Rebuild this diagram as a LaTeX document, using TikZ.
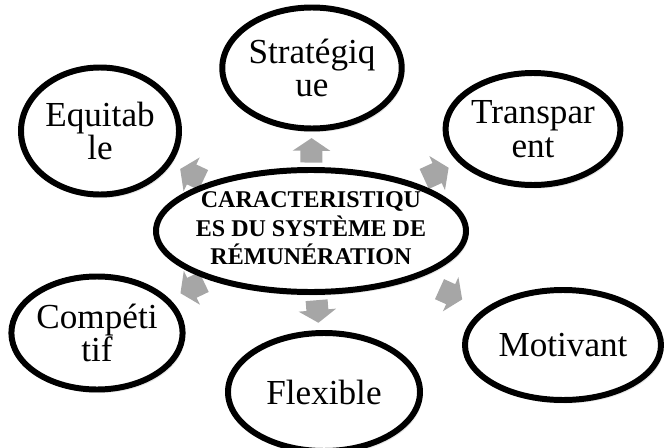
\documentclass[tikz,border=0pt]{standalone}
\usepackage{fontspec}
\setmainfont{Liberation Serif}
\usetikzlibrary{positioning,arrows.meta,shapes.geometric,calc,shadows,backgrounds}
\definecolor{arrowgrey}{HTML}{A6A6A6}

\begin{document}
\begin{tikzpicture}[x=0.03cm, y=-0.03cm,
    bubble/.style={ellipse, draw=black, line width=5.1pt, fill=white, inner sep=0pt, align=center,
        font=\fontsize{30}{28.5}\selectfont,
        drop shadow={shadow xshift=2pt, shadow yshift=-3pt, opacity=0.2}},
    garrow/.style={draw=arrowgrey, line width=0.66cm, -{Triangle[width=1.11cm, length=0.38cm]}}]
    \useasboundingbox (0,0) rectangle (664,448);

    % --- Central ellipse ---
    \node[bubble, minimum width=9.3cm, minimum height=3.66cm,
        font=\bfseries\fontsize{20.5}{22}\selectfont] (centre) at (311,231)
        {\makebox[0pt]{\begin{tabular}{@{}c@{}}CARACTERISTIQU\\ES DU SYSTÈME DE\\RÉMUNÉRATION\end{tabular}}};

    % --- Surrounding ellipses ---
    \node[bubble, minimum width=4.92cm, minimum height=3.63cm] (strat) at (312,68) {Stratégiq\\ue};
    \node[bubble, minimum width=4.74cm, minimum height=3.81cm] (equit) at (100,131) {Equitab\\le};
    \node[bubble, minimum width=5.19cm, minimum height=3.36cm] (transp) at (533,129) {Transpar\\ent};
    \node[bubble, minimum width=5.07cm, minimum height=3.39cm] (compet) at (97,333) {Compéti\\tif};
    \node[bubble, minimum width=5.76cm, minimum height=3.54cm] (flex) at (324,392) {Flexible};
    \node[bubble, minimum width=5.88cm, minimum height=3.3cm] (motiv) at (563,345) {Motivant};

    % Grey block arrows (behind the ellipses)
    \begin{scope}[on background layer]
        \draw[garrow] ($(centre)!0.42!(strat)$) -- ($(centre)!0.57!(strat)$);
        \draw[garrow] ($(centre)!0.51!(equit)$) -- ($(centre)!0.62!(equit)$);
        \draw[garrow] ($(centre)!0.51!(transp)$) -- ($(centre)!0.62!(transp)$);
        \draw[garrow] ($(centre)!0.50!(compet)$) -- ($(centre)!0.61!(compet)$);
        \draw[garrow] ($(centre)!0.43!(flex)$) -- ($(centre)!0.57!(flex)$);
        \draw[garrow] ($(centre)!0.51!(motiv)$) -- ($(centre)!0.60!(motiv)$);
    \end{scope}
\end{tikzpicture}
\end{document}
